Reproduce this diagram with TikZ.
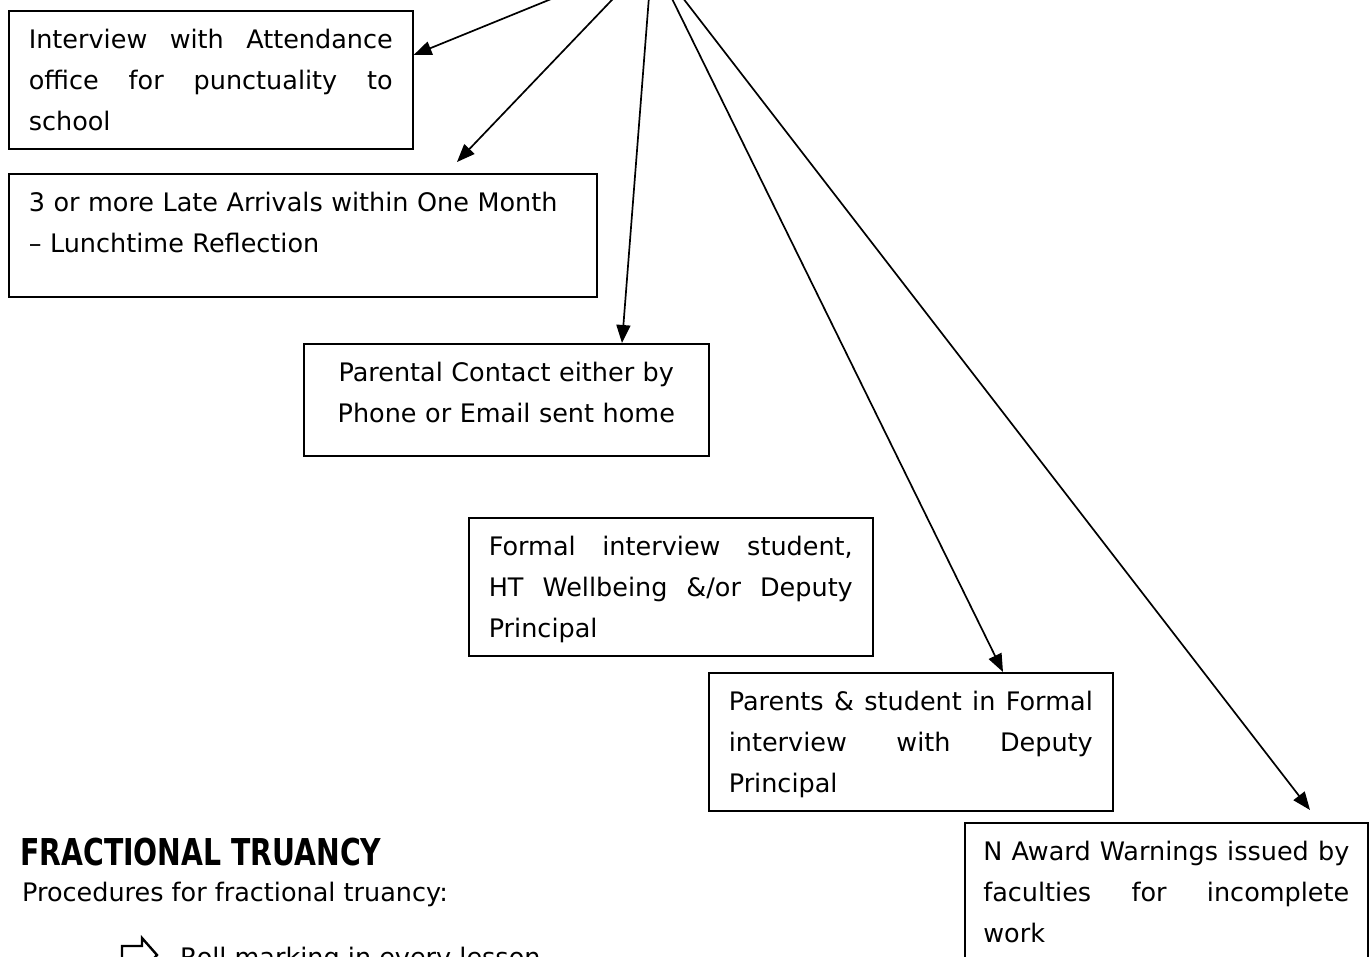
\documentclass[tikz,border=0pt]{standalone}
\usepackage{graphicx}
\usepackage{fontspec}
\setmainfont{DejaVu Sans}
\usetikzlibrary{arrows.meta,calc}
\newcommand\boxfont{\fontsize{25.5}{41}\selectfont\hyphenpenalty=10000\exhyphenpenalty=10000\tolerance=9999\emergencystretch=30pt}
\begin{document}
\begin{tikzpicture}[x=1pt,y=-1pt,
  box/.style={draw, line width=1.6pt, anchor=north west, inner xsep=20pt, inner ysep=0pt,
    text width=364pt, align=justify, font=\boxfont, text height=38pt, text depth=100pt},
  arr/.style={-{Triangle[length=18pt,width=14pt]}, line width=1.7pt},
  plain/.style={inner sep=0pt, anchor=base west}
]
\useasboundingbox (0,0) rectangle (1370,956);
\clip (0,0) rectangle (1370,956);

\node[box] (b1) at (8,10) {Interview with Attendance office for punctuality to school};
\node[box, text width=548pt, align=left, text depth=85pt] (b2) at (8,173)
  {3 or more Late Arrivals within One Month\\– Lunchtime Reflection};
\node[box, text width=365pt, align=center, text depth=74pt] (b3) at (303,343)
  {Parental Contact either by\\Phone or Email sent home};
\node[box] (b4) at (468,517) {Formal interview student, HT Wellbeing \&/or Deputy Principal};
\node[box] (b5) at (708,672) {Parents \& student in Formal interview with Deputy Principal};
\node[box, text width=366pt, inner xsep=18.5pt] (b6) at (964,822) {N Award Warnings issued by\linebreak faculties for incomplete\linebreak work};

\coordinate (src) at (652,-42);
\coordinate (t1) at ($(b1.north east)+(0,45)$);
\coordinate (t2) at ($(b2.north west)+(449,-11)$);
\coordinate (t3) at ($(b3.north west)+(319,0)$);
\coordinate (t5) at ($(b5.north west)+(295,0)$);
\coordinate (t6) at ($(b6.north west)+(346,-12)$);
\draw[arr] (src) -- (t1);
\draw[arr] (src) -- (t2);
\draw[arr] (src) -- (t3);
\draw[arr] (src) -- (t5);
\draw[arr] (src) -- (t6);

\node[plain] (head) at (20,865) {\scalebox{0.765}[1]{\fontsize{37}{40}\selectfont\bfseries FRACTIONAL TRUANCY}};
\node[plain] (proc) at (22,901) {\fontsize{25.5}{41}\selectfont Procedures for fractional truancy:};

\draw[line width=2.4pt, line join=miter] (122,946) -- (142,946) -- (142,938) -- (157,955) -- (142,972) -- (142,964) -- (122,964) -- cycle;
\node[plain] (roll) at (180,966) {\fontsize{25.5}{41}\selectfont Roll marking in every lesson};
\end{tikzpicture}
\end{document}
